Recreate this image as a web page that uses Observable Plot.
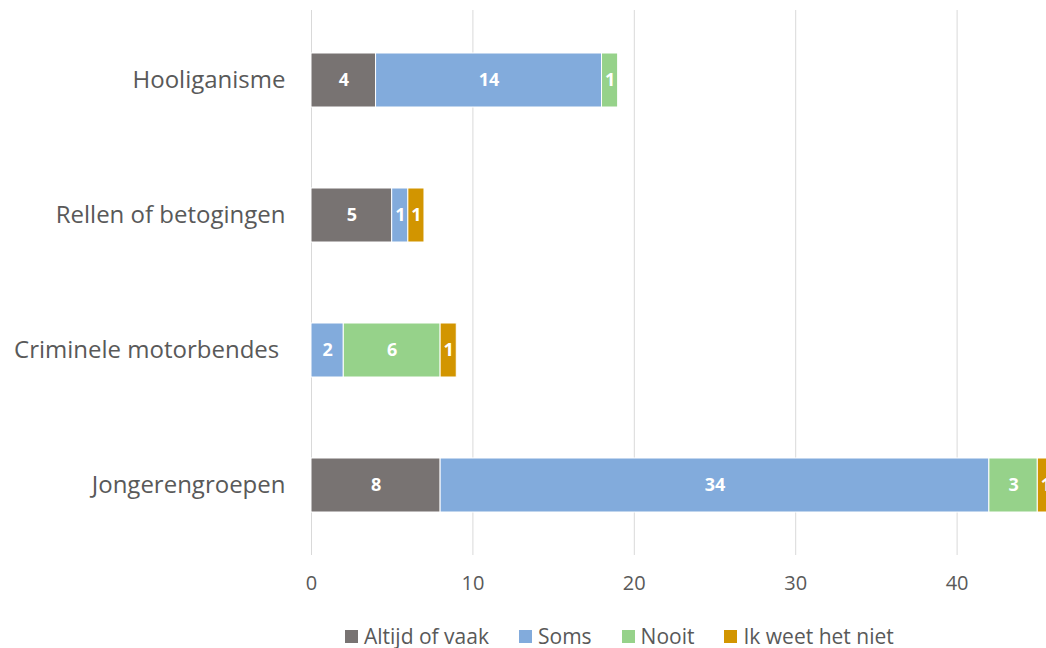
<!DOCTYPE html>
<html>
<head>
<meta charset="utf-8">
<script src="https://cdn.jsdelivr.net/npm/d3@7"></script>
<script src="https://cdn.jsdelivr.net/npm/@observablehq/plot@0.6"></script>
<style>
  html, body { margin: 0; padding: 0; background: #fff; overflow: hidden; }
  #chart svg { display: block; }
  .legend { display: flex; align-items: center; font-family: "Open Sans", sans-serif; font-size: 21px; color: #595959; padding-left: 345px; margin-top: 11px; line-height: 26px; }
  .legend .item { display: flex; align-items: center; margin-right: 30px; }
  .legend .sw { width: 13px; height: 13px; margin-right: 6px; }
</style>
</head>
<body>
<div id="chart"></div>
<script>
const categories = ["Hooliganisme", "Rellen of betogingen", "Criminele motorbendes", "Jongerengroepen"];
const categoryLabels = ["Hooliganisme", "Rellen of betogingen", "Criminele motorbendes\u00a0", "Jongerengroepen"];
const series = ["Altijd of vaak", "Soms", "Nooit", "Ik weet het niet"];
const colors = ["#787372", "#82abdc", "#96d28a", "#d29500"];
const altijd = [4, 5, 0, 8];
const soms = [14, 1, 2, 34];
const nooit = [1, 0, 6, 3];
const weetniet = [0, 1, 1, 1];
const xTicks = [0, 10, 20, 30, 40];

const valuesBySeries = [altijd, soms, nooit, weetniet];
const data = [];
categories.forEach((c, i) => {
  series.forEach((s, j) => {
    const v = valuesBySeries[j][i];
    if (v > 0) data.push({cat: c, series: s, value: v});
  });
});

const W = 1046;
const ML = 311;
const pxPerUnit = 16.14;
const xMax = (W - ML) / pxPerUnit;

const stackOpts = {x: "value", y: "cat", z: "series", order: series};

const chart = Plot.plot({
  width: W,
  height: 612,
  marginLeft: ML,
  marginRight: 0,
  marginTop: 10,
  marginBottom: 57,
  style: {fontFamily: "Open Sans, sans-serif", color: "#595959", background: "#fff"},
  x: {domain: [0, xMax], ticks: xTicks, label: null},
  y: {domain: categories, paddingInner: 0.6, paddingOuter: 0.31, label: null},
  color: {domain: series, range: colors},
  marks: [
    Plot.gridX(xTicks, {stroke: "#d9d9d9", strokeOpacity: 1, strokeWidth: 1}),
    Plot.axisX(xTicks, {tickSize: 0, tickPadding: 20, fontSize: 20, fill: "#595959", label: null}),
    Plot.axisY({tickSize: 0, tickPadding: 26, fontSize: 24, fill: "#595959", label: null,
      tickFormat: d => categoryLabels[categories.indexOf(d)]}),
    Plot.barX(data, Plot.stackX({...stackOpts, fill: "series", stroke: "white", strokeWidth: 1, clip: true})),
    Plot.text(data, Plot.stackX({...stackOpts, text: d => String(d.value), fill: "white", fontWeight: "bold", fontSize: 18, clip: true}))
  ]
});
document.getElementById("chart").appendChild(chart);

const legend = document.createElement("div");
legend.className = "legend";
series.forEach((s, i) => {
  const it = document.createElement("div");
  it.className = "item";
  const sw = document.createElement("span");
  sw.className = "sw";
  sw.style.background = colors[i];
  const lb = document.createElement("span");
  lb.textContent = s;
  it.appendChild(sw); it.appendChild(lb);
  legend.appendChild(it);
});
document.body.appendChild(legend);
</script>
</body>
</html>
